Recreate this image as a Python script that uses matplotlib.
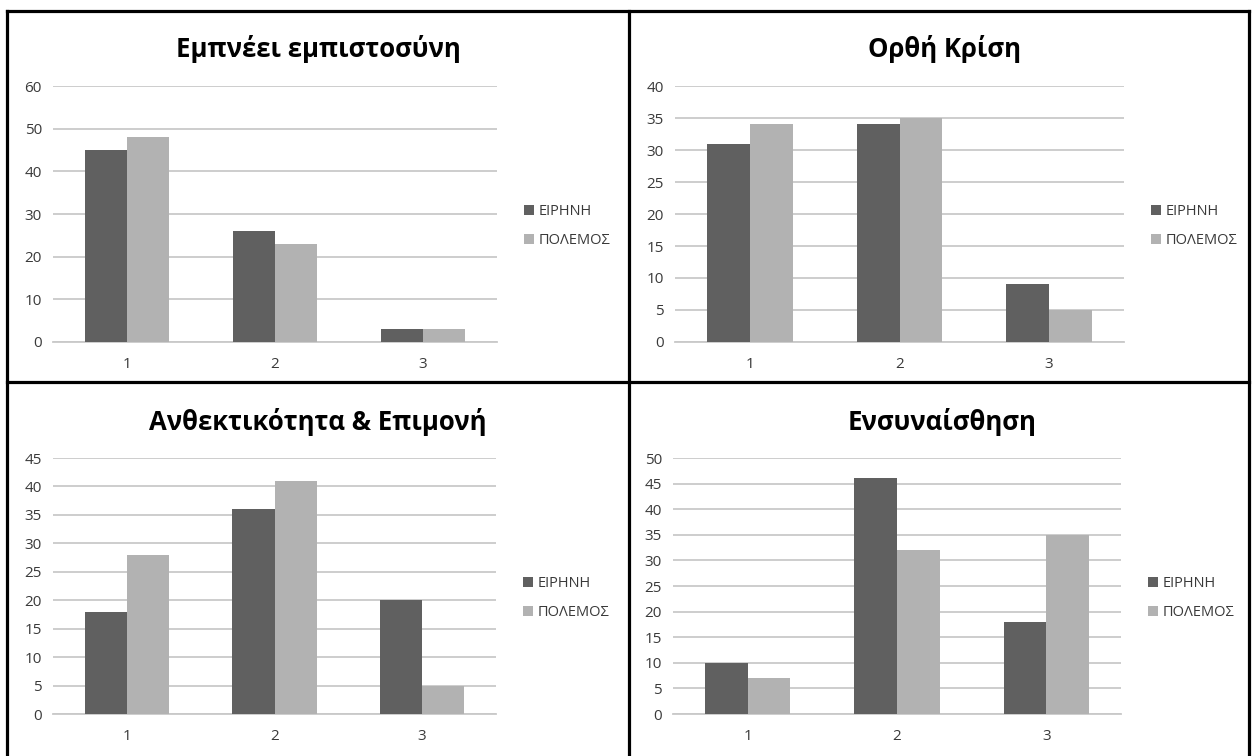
import matplotlib
matplotlib.use("Agg")
import matplotlib.pyplot as plt
import numpy as np
from matplotlib.lines import Line2D

plt.rcParams['font.family'] = ['Open Sans', 'DejaVu Sans']

# Data
categories = ["1", "2", "3"]
series_names = ["ΕΙΡΗΝΗ", "ΠΟΛΕΜΟΣ"]
titles = ["Εμπνέει εμπιστοσύνη", "Ορθή Κρίση",
          "Ανθεκτικότητα & Επιμονή", "Ενσυναίσθηση"]
eirini = [
    [45, 26, 3],
    [31, 34, 9],
    [18, 36, 20],
    [10, 46, 18],
]
polemos = [
    [48, 23, 3],
    [34, 35, 5],
    [28, 41, 5],
    [7, 32, 35],
]
y_max = [60, 40, 45, 50]
y_step = [10, 5, 5, 5]

W, H = 1252, 756
fig = plt.figure(figsize=(W / 100, H / 100), dpi=100)
fig.patch.set_facecolor("white")

# plot-area boxes in pixels: (left, right, top, bottom)
boxes = [(53, 497, 86, 342), (675, 1124, 86, 342),
         (53, 496, 458, 714), (673, 1121, 458, 714)]
title_pos = [(318, 49), (944, 49), (318, 422), (942, 422)]

dark = "#606060"
light = "#b2b2b2"
grid_c = "#c9c9c9"
text_c = "#3a3a3a"

bw = 1 / 3.5
x = np.arange(len(categories))

for i in range(4):
    l, r, t, b = boxes[i]
    ax = fig.add_axes([l / W, 1 - b / H, (r - l) / W, (b - t) / H])
    ax.bar(x - bw / 2, eirini[i], width=bw, color=dark, label=series_names[0], zorder=3)
    ax.bar(x + bw / 2, polemos[i], width=bw, color=light, label=series_names[1], zorder=3)
    ax.set_xlim(-0.5, len(categories) - 0.5)
    ax.set_ylim(0, y_max[i])
    ax.set_yticks(np.arange(0, y_max[i] + 1, y_step[i]))
    ax.set_xticks(x)
    ax.set_xticklabels(categories)
    ax.yaxis.grid(True, color=grid_c, linewidth=1.3, zorder=0)
    ax.set_axisbelow(True)
    for s in ["left", "right", "top"]:
        ax.spines[s].set_visible(False)
    ax.spines["bottom"].set_color(grid_c)
    ax.spines["bottom"].set_linewidth(1.3)
    ax.tick_params(axis="y", length=0, pad=8, labelsize=11, labelcolor=text_c)
    ax.tick_params(axis="x", length=0, pad=11, labelsize=11, labelcolor=text_c)
    leg = ax.legend(loc="center left", bbox_to_anchor=(1.045, 0.453), frameon=False,
                    fontsize=10.5, handlelength=0.65, handleheight=0.65,
                    handletextpad=0.35, labelspacing=0.95, borderpad=0)
    for txt in leg.get_texts():
        txt.set_color(text_c)
    tx, ty = title_pos[i]
    fig.text(tx / W, 1 - ty / H, titles[i], ha="center", va="center",
             fontsize=18.5, fontweight="bold", color="black")

# panel frame
lw = 2.3
frame = [((7, 7), (11, 756)), ((1249, 1249), (11, 756)), ((7, 1249), (11, 11)),
         ((629, 629), (11, 756)), ((7, 1249), (382, 382))]
for xs, ys in frame:
    fig.add_artist(Line2D([xx / W for xx in xs], [1 - yy / H for yy in ys],
                          color="black", linewidth=lw, transform=fig.transFigure))

fig.savefig("out.png", dpi=100, facecolor="white")
